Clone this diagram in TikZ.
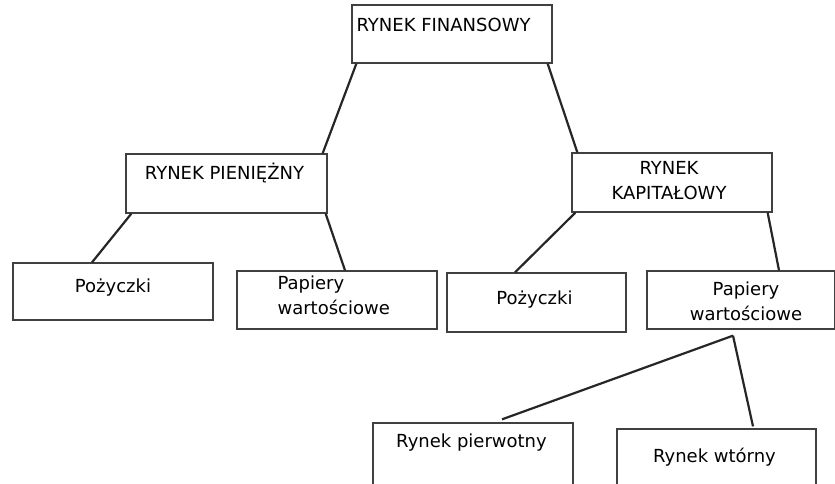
\documentclass[tikz,border=0pt]{standalone}
\usepackage{fontspec}
\setmainfont{DejaVu Sans}
\usetikzlibrary{positioning}

\begin{document}
\begin{tikzpicture}[x=1pt,y=-1pt,
        font=\fontsize{18}{25}\selectfont,
        box/.style={rectangle,draw=black!75,line width=1.3pt,fill=white,inner sep=0pt},
        txt/.style={align=center,inner sep=0pt},
        link/.style={draw=black!85,line width=2.2pt}]

    \useasboundingbox (0,0) rectangle (835,483);

    % Top level
    \node[box,minimum width=200pt,minimum height=58pt,
        label={[txt,anchor=west,shift={(5,-9)}]west:RYNEK FINANSOWY}] (fin) at (452,34) {};

    % Level 1
    \node[box,minimum width=201pt,minimum height=59pt,
        label={[txt,shift={(-2,-10)}]center:RYNEK PIENIĘŻNY}] (pien) at (226.5,183.5) {};
    \node[box,minimum width=200pt,minimum height=59pt,
        label={[txt,shift={(-3,-1.5)}]center:RYNEK\\KAPITAŁOWY}] (kap) at (672,182.5) {};

    % Level 2
    \node[box,minimum width=200pt,minimum height=57pt,
        label={[txt,shift={(0,-4)}]center:Pożyczki}] (poz1) at (113,291.5) {};
    \node[box,minimum width=200pt,minimum height=58pt,
        label={[txt,align=left,anchor=west,shift={(41,-5)}]west:Papiery\\wartościowe}] (pap1) at (337,300) {};
    \node[box,minimum width=179pt,minimum height=59pt,
        label={[txt,shift={(-2,-3)}]center:Pożyczki}] (poz2) at (536.5,302.5) {};
    \node[box,minimum width=188pt,minimum height=58pt,
        label={[txt,shift={(5,1)}]center:Papiery\\wartościowe}] (pap2) at (741,300) {};

    % Level 3
    \node[box,minimum width=200pt,minimum height=66pt,
        label={[txt,shift={(-1.5,-13)}]center:Rynek pierwotny}] (pierw) at (473,456) {};
    \node[box,minimum width=199pt,minimum height=66pt,
        label={[txt,shift={(-2,-5)}]center:Rynek wtórny}] (wtor) at (716.5,462) {};

    % Edges from RYNEK FINANSOWY
    \draw[link] ([shift={(5,0)}]fin.south west) -- ([shift={(-5,0)}]pien.north east);
    \draw[link] ([shift={(-5,0)}]fin.south east) -- ([shift={(6,0)}]kap.north west);

    % Edges from RYNEK PIENIĘŻNY
    \draw[link] ([shift={(6,0)}]pien.south west) -- ([shift={(-21,0)}]poz1.north);
    \draw[link] ([shift={(-2,0)}]pien.south east) -- ([shift={(8,0)}]pap1.north);

    % Edges from RYNEK KAPITAŁOWY
    \draw[link] ([shift={(4,0)}]kap.south west) -- ([shift={(-21.5,0)}]poz2.north);
    \draw[link] ([shift={(-5,0)}]kap.south east) -- ([shift={(38,0)}]pap2.north);

    % Edges from Papiery wartosciowe
    \coordinate (split) at ([shift={(-8,6)}]pap2.south);
    \draw[link] (split) -- ([shift={(29,-3)}]pierw.north);
    \draw[link] (split) -- ([shift={(36.5,-2)}]wtor.north);
\end{tikzpicture}
\end{document}
